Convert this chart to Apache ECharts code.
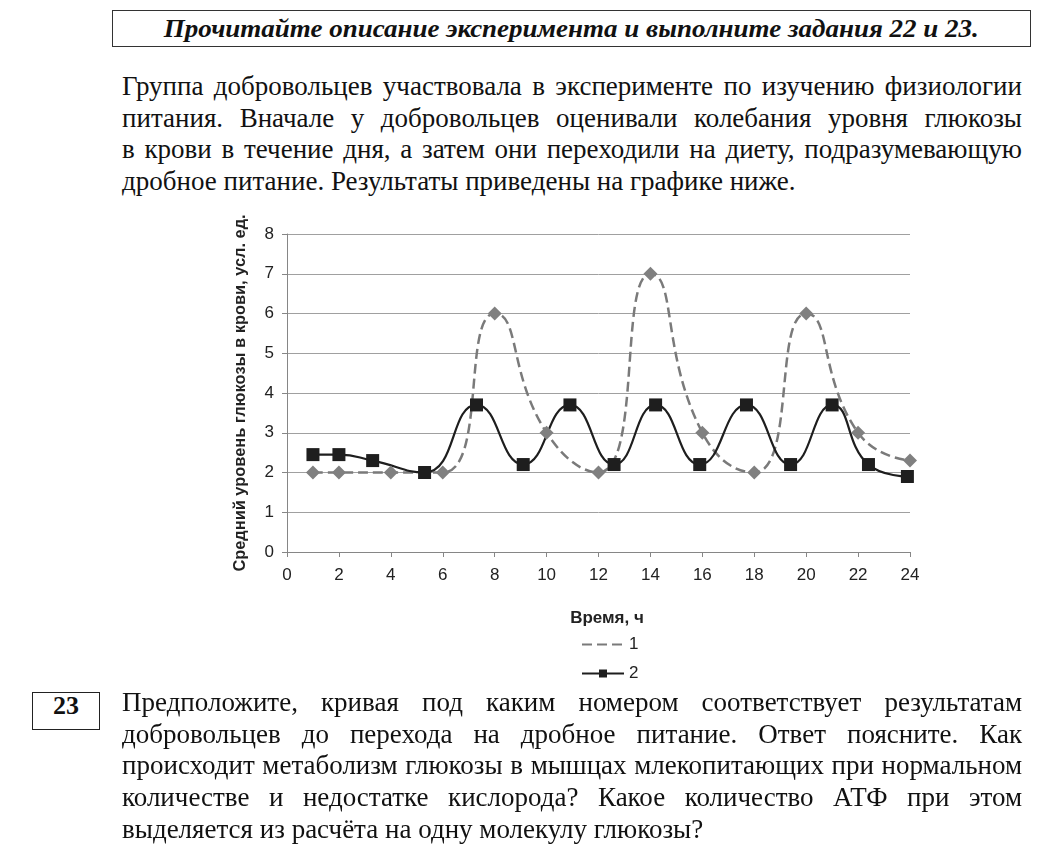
<!DOCTYPE html>
<html>
<head>
<meta charset="utf-8">
<script src="https://cdn.jsdelivr.net/npm/echarts@6/dist/echarts.min.js"></script>
<style>
  body { margin: 0; background: #fff; width: 1055px; height: 858px; position: relative; overflow: hidden; }
  .serif { font-family: "Liberation Serif", "Times New Roman", serif; color: #111; }
  #head { position: absolute; left: 112px; top: 10px; width: 917px; height: 35px; border: 1px solid #333;
          display: flex; align-items: center; justify-content: center; }
  #headText { font-weight: bold; font-style: italic; font-size: 25px; white-space: nowrap; display: inline-block; }
  .line { position: absolute; left: 122px; width: 900px; font-size: 27px; line-height: 31.7px; height: 31.7px;
          white-space: nowrap; text-align: justify; text-align-last: justify; }
  .line.last { text-align: left; text-align-last: left; }
  #num { position: absolute; left: 32px; top: 692px; width: 66px; height: 36px; border: 1px solid #222;
         font-weight: bold; font-size: 26px; text-align: center; line-height: 26px; }
  #chart { position: absolute; left: 200px; top: 215px; width: 760px; height: 480px; }
</style>
</head>
<body>
<div id="head" class="serif"><span id="headText">Прочитайте описание эксперимента и выполните задания 22 и 23.</span></div>
<div id="num" class="serif">23</div>
<div id="chart"></div>
<script>
// текст задания, по строкам как в оригинале
const introLines = [
  'Группа добровольцев участвовала в эксперименте по изучению физиологии',
  'питания. Вначале у добровольцев оценивали колебания уровня глюкозы',
  'в крови в течение дня, а затем они переходили на диету, подразумевающую',
  'дробное питание. Результаты приведены на графике ниже.'
];
const taskLines = [
  'Предположите, кривая под каким номером соответствует результатам',
  'добровольцев до перехода на дробное питание. Ответ поясните. Как',
  'происходит метаболизм глюкозы в мышцах млекопитающих при нормальном',
  'количестве и недостатке кислорода? Какое количество АТФ при этом',
  'выделяется из расчёта на одну молекулу глюкозы?'
];

// данные графика
const hours1 = [1, 2, 4, 6, 8, 10, 12, 14, 16, 18, 20, 22, 24];
const glucose1 = [2, 2, 2, 2, 6, 3, 2, 7, 3, 2, 6, 3, 2.3];
const hours2 = [1, 2, 3.3, 5.3, 7.3, 9.1, 10.9, 12.6, 14.2, 15.9, 17.7, 19.4, 21, 22.4, 23.9];
const glucose2 = [2.45, 2.45, 2.3, 2, 3.7, 2.2, 3.7, 2.2, 3.7, 2.2, 3.7, 2.2, 3.7, 2.2, 1.9];

function putLines(lines, top) {
  lines.forEach((t, i) => {
    const d = document.createElement('div');
    d.className = 'line serif' + (i === lines.length - 1 ? ' last' : '');
    d.style.top = (top + i * 31.7) + 'px';
    d.textContent = t;
    document.body.appendChild(d);
  });
}
putLines(introLines, 71);
putLines(taskLines, 687);

// подгоняем ширину заголовка
const ht = document.getElementById('headText');
ht.style.transform = 'scaleX(' + (815 / ht.getBoundingClientRect().width) + ')';

const zip = (xs, ys) => xs.map((x, i) => [x, ys[i]]);
const font = '"Liberation Sans", Arial, sans-serif';

let option = {
  animation: false,
  grid: { left: 87, top: 19, width: 623, height: 318, containLabel: false, outerBoundsMode: 'none' },
  legend: {
    orient: 'vertical',
    left: 376,
    top: 416,
    itemWidth: 42,
    itemHeight: 10,
    itemGap: 12,
    textStyle: { fontFamily: font, fontSize: 17, color: '#222' },
    data: [
      { name: '1', itemStyle: { opacity: 0 } },
      { name: '2' }
    ]
  },
  xAxis: {
    type: 'value',
    min: 0,
    max: 24,
    interval: 2,
    name: 'Время, ч',
    nameLocation: 'middle',
    nameGap: 58,
    nameTextStyle: { fontFamily: font, fontSize: 17, fontWeight: 'bold', color: '#222', padding: [0, 0, 0, 17] },
    axisLine: { lineStyle: { color: '#868686' } },
    axisTick: { length: 5, lineStyle: { color: '#868686' } },
    axisLabel: { fontFamily: font, fontSize: 17, color: '#222', margin: 15 },
    splitLine: { show: false }
  },
  yAxis: {
    type: 'value',
    min: 0,
    max: 8,
    interval: 1,
    name: 'Средний уровень глюкозы в крови, усл. ед.',
    nameLocation: 'middle',
    nameGap: 39,
    nameTextStyle: { fontFamily: font, fontSize: 16.4, fontWeight: 'bold', color: '#222' },
    axisLine: { show: true, lineStyle: { color: '#868686' } },
    axisTick: { show: true, length: 5, lineStyle: { color: '#868686' } },
    axisLabel: { fontFamily: font, fontSize: 17, color: '#222', margin: 13 },
    splitLine: { lineStyle: { color: '#a0a0a0' } }
  },
  series: [
    {
      name: '1',
      type: 'line',
      smooth: 0.55,
      data: zip(hours1, glucose1),
      symbol: 'diamond',
      symbolSize: 14,
      itemStyle: { color: '#808080' },
      lineStyle: { color: '#7a7a7a', width: 2.5, type: [10, 5] }
    },
    {
      name: '2',
      type: 'line',
      smooth: 0.5,
      data: zip(hours2, glucose2),
      symbol: 'rect',
      symbolSize: 13,
      itemStyle: { color: '#1e1e1e' },
      lineStyle: { color: '#1e1e1e', width: 2.2 }
    }
  ]
};

const myChart = echarts.init(document.getElementById('chart'));
myChart.setOption(option);
</script>
</body>
</html>
